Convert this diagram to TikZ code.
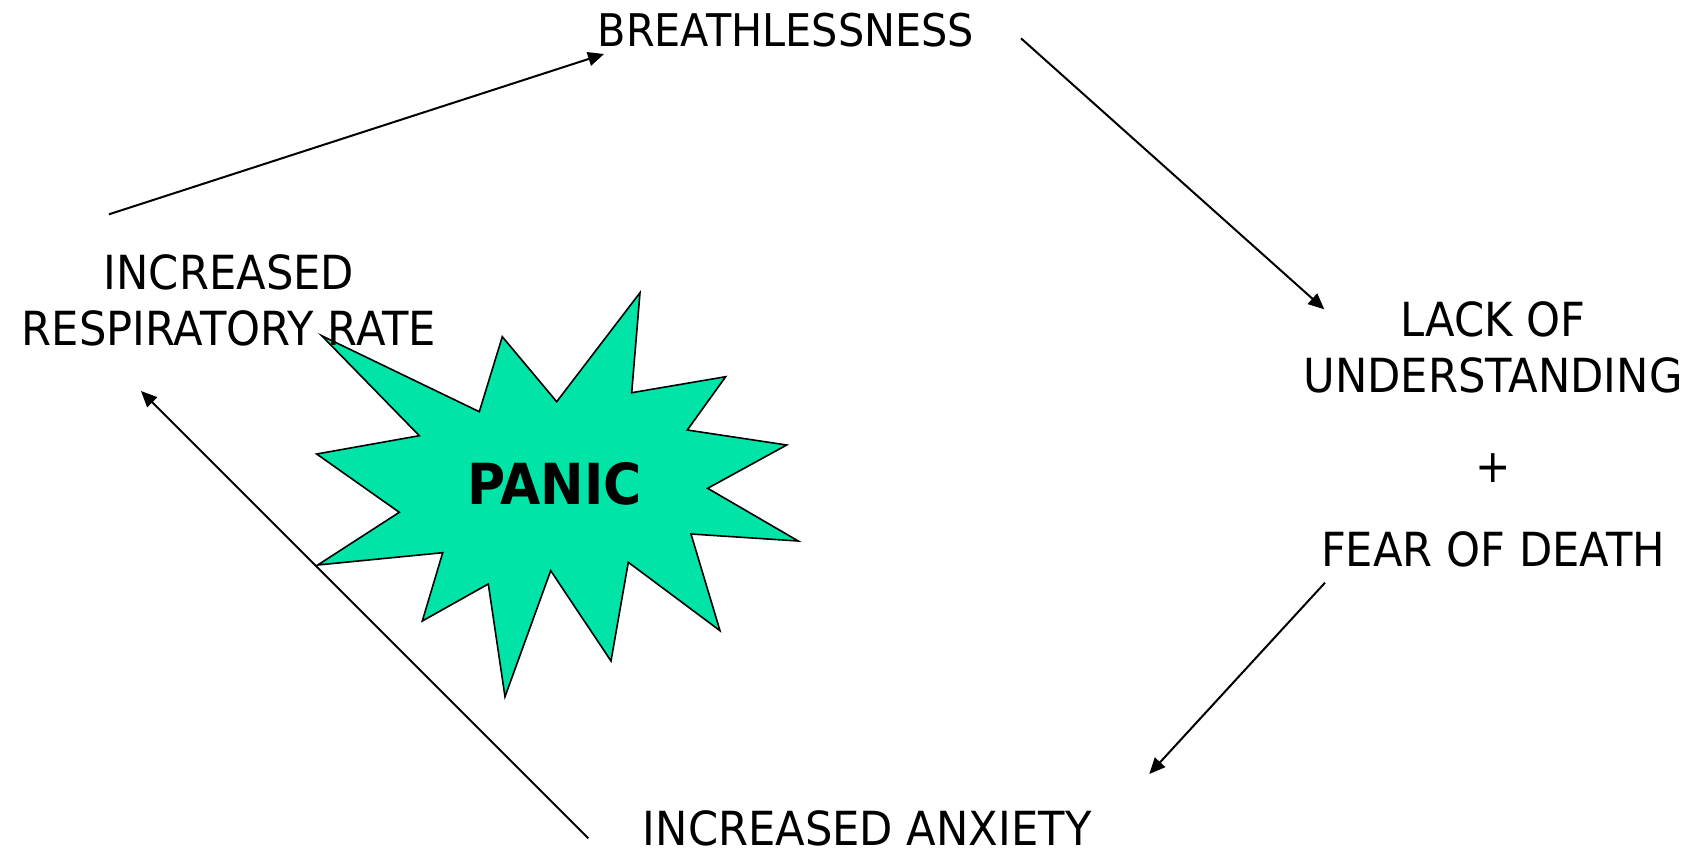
\documentclass[tikz,border=0pt]{standalone}
\usepackage{fontspec}
\setmainfont[FakeStretch=0.92]{DejaVu Sans}
\usetikzlibrary{arrows.meta}
\definecolor{panicgreen}{RGB}{0,228,168}

\begin{document}
\begin{tikzpicture}[x=0.5pt,y=-0.5pt,>={Triangle[length=8pt,width=7pt]},
lbl/.style={align=center,anchor=base,inner sep=0pt,font=\fontsize{23.5}{28}\selectfont},
link/.style={->,line width=1pt}]
\useasboundingbox (0,0) rectangle (1693,852);
% the panic star
\draw[fill=panicgreen,line width=0.8pt] (321.7,335.7) -- (479.3,411.7) -- (502.3,336.7) -- (556.7,401.7)
  -- (640,292.7) -- (631.7,392.7) -- (725.7,376.7) -- (687.3,430) -- (786.7,445) -- (707.7,488.3)
  -- (798.3,541) -- (691,534) -- (720,630.7) -- (628.3,562.3) -- (611,661) -- (550.7,570.7)
  -- (505,696.7) -- (488.3,584) -- (422.3,621) -- (442.7,552.7) -- (317.7,565) -- (399.3,512.3)
  -- (316.7,454) -- (419.3,435.7) -- cycle;
\node[inner sep=0pt,font=\fontsize{28.3}{30}\selectfont\bfseries] (panic) at (554.5,484) {PANIC};
% labels of the cycle (base = last line)
\node[lbl,font=\fontsize{22.5}{28}\selectfont] (breath) at (785.8,46.7) {BREATHLESSNESS};
\node[lbl] (irr) at (229,345) {INCREASED\\RESPIRATORY RATE};
\node[lbl] (lack) at (1493,392.7) {LACK OF\\UNDERSTANDING};
\node[lbl,anchor=center,font=\fontsize{23}{26}\selectfont] (plus) at (1493,468) {+};
\node[lbl] (fear) at (1493,566) {FEAR OF DEATH};
\node[lbl] (anx) at (867.2,845) {INCREASED ANXIETY};
% arrow ends
\coordinate (irr-out) at (109,214.3);   \coordinate (breath-in) at (604,54);
\coordinate (breath-out) at (1021,38.3); \coordinate (lack-in) at (1324.3,309.3);
\coordinate (fear-out) at (1325,582.7);  \coordinate (anx-in) at (1149.3,774);
\coordinate (anx-out) at (588.3,838.3);  \coordinate (irr-in) at (141,391);
\draw[link] (irr-out)--(breath-in); \draw[link] (breath-out)--(lack-in);
\draw[link] (fear-out)--(anx-in); \draw[link] (anx-out)--(irr-in);
\end{tikzpicture}
\end{document}
